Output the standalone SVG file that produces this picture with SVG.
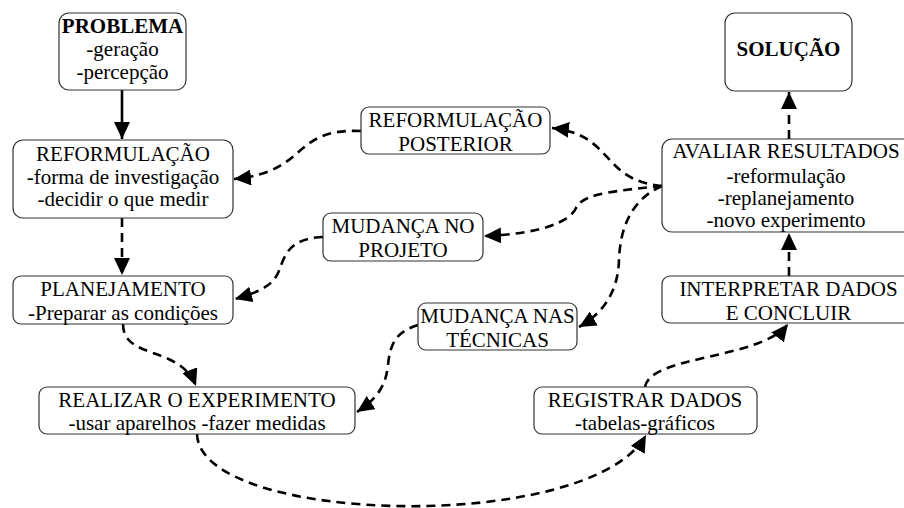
<svg xmlns="http://www.w3.org/2000/svg" width="904" height="508" viewBox="0 0 904 508">
<style>
.box{fill:#fff;stroke:#333;stroke-width:1.2}
.t{font-family:'Liberation Serif','Times New Roman',serif;font-size:21px;fill:#000;text-anchor:middle}
.b{font-weight:bold}
.c{fill:none;stroke:#000;stroke-width:2.6}
.d{stroke-dasharray:9,6}
</style>
<defs>
<marker id="ah" markerUnits="userSpaceOnUse" markerWidth="18" markerHeight="16" refX="17" refY="8" orient="auto">
<path d="M0,0 L17,8 L0,16 z" fill="#000"/>
</marker>
</defs>
<rect width="904" height="508" fill="#fff"/>
<g id="connectors">
<path class="c" d="M122,90 L122,139" marker-end="url(#ah)"/>
<path class="c d" d="M122,218 L122,275" marker-end="url(#ah)"/>
<path class="c d" d="M123,324 C123,360 180,345 196,386" marker-end="url(#ah)"/>
<path class="c d" d="M197,434 C200,525 590,535 646,435" marker-end="url(#ah)"/>
<path class="c d" d="M645,387 C650,355 760,360 788,324" marker-end="url(#ah)"/>
<path class="c d" d="M789,276 L789,233" marker-end="url(#ah)"/>
<path class="c d" d="M789,139 L789,92" marker-end="url(#ah)"/>
<path class="c d" d="M662,186 C600,180 615,135 552,128" marker-end="url(#ah)"/>
<path class="c d" d="M361,131 C290,128 310,172 234,179" marker-end="url(#ah)"/>
<path class="c d" d="M662,186 C600,192 582,196 576,208 C570,222 540,234 484,236" marker-end="url(#ah)"/>
<path class="c d" d="M323,237 C290,238 285,255 280,268 C275,285 260,292 235,299" marker-end="url(#ah)"/>
<path class="c d" d="M662,186 C630,200 620,230 619,260 C618,295 600,315 579,327" marker-end="url(#ah)"/>
<path class="c d" d="M418,325 C395,332 390,345 388,365 C386,385 378,398 357,412" marker-end="url(#ah)"/>
</g>
<g id="problema">
<rect class="box" x="59" y="13" width="127" height="77" rx="10"/>
<text class="t"><tspan class="b" x="122.5" y="33">PROBLEMA</tspan><tspan x="122.5" y="56">-geração</tspan><tspan x="122.5" y="79">-percepção</tspan></text>
</g>
<g id="reformulacao">
<rect class="box" x="13" y="140" width="220" height="78" rx="10"/>
<text class="t"><tspan x="123" y="161">REFORMULAÇÃO</tspan><tspan x="123" y="184">-forma de investigação</tspan><tspan x="123" y="206">-decidir o que medir</tspan></text>
</g>
<g id="planejamento">
<rect class="box" x="13" y="276" width="220" height="48" rx="8"/>
<text class="t"><tspan x="123" y="296">PLANEJAMENTO</tspan><tspan x="123" y="320">-Preparar as condições</tspan></text>
</g>
<g id="realizar">
<rect class="box" x="39" y="387" width="316" height="47" rx="8"/>
<text class="t"><tspan x="197" y="407">REALIZAR O EXPERIMENTO</tspan><tspan x="197" y="430">-usar aparelhos -fazer medidas</tspan></text>
</g>
<g id="reformulacao-posterior">
<rect class="box" x="361" y="107" width="189" height="47" rx="8"/>
<text class="t"><tspan x="455.5" y="127">REFORMULAÇÃO</tspan><tspan x="455.5" y="151">POSTERIOR</tspan></text>
</g>
<g id="mudanca-projeto">
<rect class="box" x="323" y="213" width="160" height="48" rx="8"/>
<text class="t"><tspan x="403" y="233">MUDANÇA NO</tspan><tspan x="403" y="257">PROJETO</tspan></text>
</g>
<g id="mudanca-tecnicas">
<rect class="box" x="418" y="303" width="159" height="47" rx="8"/>
<text class="t"><tspan x="497.5" y="323">MUDANÇA NAS</tspan><tspan x="497.5" y="347">TÉCNICAS</tspan></text>
</g>
<g id="registrar">
<rect class="box" x="534" y="387" width="223" height="47" rx="8"/>
<text class="t"><tspan x="645" y="407">REGISTRAR DADOS</tspan><tspan x="645" y="430">-tabelas-gráficos</tspan></text>
</g>
<g id="interpretar">
<rect class="box" x="662" y="276" width="260" height="47" rx="8"/>
<text class="t"><tspan x="788.5" y="296">INTERPRETAR DADOS</tspan><tspan x="788.5" y="320">E CONCLUIR</tspan></text>
</g>
<g id="avaliar">
<rect class="box" x="662" y="139" width="260" height="93" rx="10"/>
<text class="t"><tspan x="786" y="158">AVALIAR RESULTADOS</tspan><tspan x="786" y="183">-reformulação</tspan><tspan x="786" y="205">-replanejamento</tspan><tspan x="786" y="227">-novo experimento</tspan></text>
</g>
<g id="solucao">
<rect class="box" x="725" y="13" width="127" height="78" rx="10"/>
<text class="t b" x="788.5" y="56">SOLUÇÃO</text>
</g>
</svg>
